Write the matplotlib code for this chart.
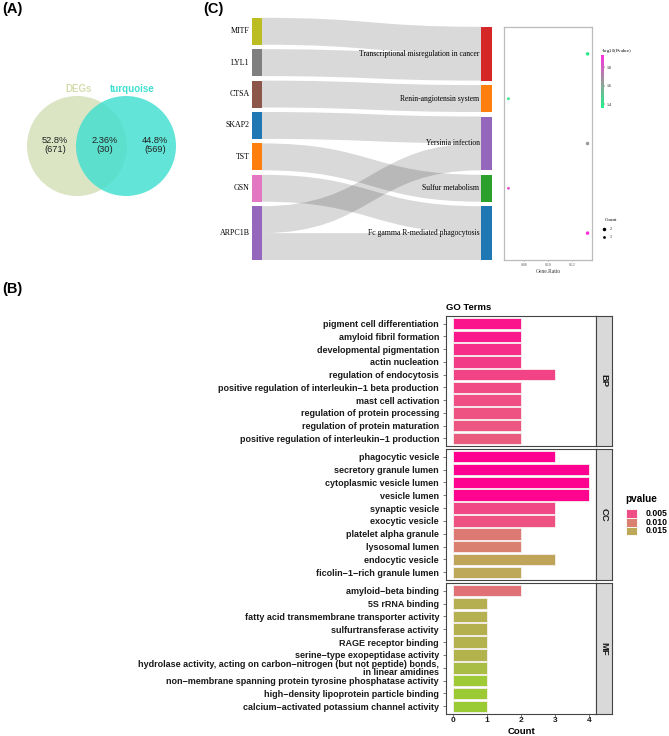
import numpy as np
import matplotlib
matplotlib.use('Agg')
import matplotlib.pyplot as plt
from matplotlib.patches import Circle, Rectangle, PathPatch
from matplotlib.path import Path
from matplotlib.colors import LinearSegmentedColormap, Normalize
from matplotlib.cm import ScalarMappable

# ---------------- data ----------------
venn_names = ['DEGs', 'turquoise']
venn_counts = [671, 30, 569]          # only DEGs, shared, only turquoise

genes = ['MITF', 'LYL1', 'CTSA', 'SKAP2', 'TST', 'GSN', 'ARPC1B']
gene_colors = ['#bcbd22', '#7f7f7f', '#8c564b', '#1f77b4', '#ff7f0e', '#e377c2', '#9467bd']
pathways = ['Transcriptional misregulation in cancer', 'Renin-angiotensin system',
            'Yersinia infection', 'Sulfur metabolism', 'Fc gamma R-mediated phagocytosis']
pathway_colors = ['#d62728', '#ff7f0e', '#9467bd', '#2ca02c', '#1f77b4']
link_source = ['MITF', 'LYL1', 'CTSA', 'SKAP2', 'TST', 'GSN', 'ARPC1B', 'ARPC1B']
link_target = ['Transcriptional misregulation in cancer', 'Transcriptional misregulation in cancer',
               'Renin-angiotensin system', 'Yersinia infection', 'Sulfur metabolism',
               'Fc gamma R-mediated phagocytosis', 'Yersinia infection',
               'Fc gamma R-mediated phagocytosis']

kegg_gene_ratio = [0.133, 0.067, 0.133, 0.067, 0.133]
kegg_count = [2, 1, 2, 1, 2]
kegg_neglog10p = [1.38, 1.40, 1.65, 1.85, 1.93]

bp_terms = ['pigment cell differentiation', 'amyloid fibril formation', 'developmental pigmentation',
            'actin nucleation', 'regulation of endocytosis',
            'positive regulation of interleukin\u22121 beta production', 'mast cell activation',
            'regulation of protein processing', 'regulation of protein maturation',
            'positive regulation of interleukin\u22121 production']
bp_counts = [2, 2, 2, 2, 3, 2, 2, 2, 2, 2]
bp_p = [0.0016, 0.0018, 0.0030, 0.0040, 0.0044, 0.0048, 0.0051, 0.0054, 0.0058, 0.0064]

cc_terms = ['phagocytic vesicle', 'secretory granule lumen', 'cytoplasmic vesicle lumen', 'vesicle lumen',
            'synaptic vesicle', 'exocytic vesicle', 'platelet alpha granule', 'lysosomal lumen',
            'endocytic vesicle', 'ficolin\u22121\u2212rich granule lumen']
cc_counts = [3, 4, 4, 4, 3, 3, 2, 2, 3, 2]
cc_p = [0.0003, 0.0004, 0.0005, 0.0006, 0.0047, 0.0054, 0.0093, 0.0100, 0.0145, 0.0150]

mf_terms = ['amyloid\u2212beta binding', '5S rRNA binding', 'fatty acid transmembrane transporter activity',
            'sulfurtransferase activity', 'RAGE receptor binding', 'serine\u2212type exopeptidase activity',
            'hydrolase activity, acting on carbon\u2212nitrogen (but not peptide) bonds,\nin linear amidines',
            'non\u2212membrane spanning protein tyrosine phosphatase activity',
            'high\u2212density lipoprotein particle binding', 'calcium\u2212activated potassium channel activity']
mf_counts = [2, 1, 1, 1, 1, 1, 1, 1, 1, 1]
mf_p = [0.0085, 0.0160, 0.0161, 0.0162, 0.0164, 0.0166, 0.0180, 0.0200, 0.0201, 0.0202]

ontologies = ['BP', 'CC', 'MF']
pvalue_breaks = [0.005, 0.010, 0.015]
count_x_ticks = [0, 1, 2, 3, 4]

# ---------------- figure ----------------
W, H = 669, 736
fig = plt.figure(figsize=(W / 100, H / 100), dpi=100)
SANS = 'Liberation Sans'
SERIF = 'Liberation Serif'


def px_axes(x0, y0, x1, y1, **kw):
    return fig.add_axes([x0 / W, 1 - y1 / H, (x1 - x0) / W, (y1 - y0) / H], **kw)


ov = px_axes(0, 0, W, H)
ov.set_xlim(0, W)
ov.set_ylim(H, 0)
ov.axis('off')

# panel labels
for lab, x, y in [('(A)', 2, 9), ('(C)', 203, 9), ('(B)', 2, 289)]:
    ov.text(x, y, lab, fontsize=10.5, fontweight='bold', family=SANS, va='center', ha='left')

# ---------------- (A) Venn ----------------
total = sum(venn_counts)
ov.add_patch(Circle((77, 146), 50, facecolor='#dbe5c4', edgecolor='none', zorder=1))
ov.add_patch(Circle((126, 146), 50, facecolor='#40e0d0', edgecolor='none', alpha=0.82, zorder=2))
ov.text(79, 89, venn_names[0], color='#d3ddb0', fontsize=7, fontweight='bold', family=SANS,
        ha='center', va='center')
ov.text(132, 89, venn_names[1], color='#40e0d0', fontsize=7, fontweight='bold', family=SANS,
        ha='center', va='center')
for x, c in zip([55, 105, 155], venn_counts):
    pct = 100 * c / total
    s = f'{pct:.1f}%' if pct >= 10 else f'{pct:.2f}%'
    ov.text(x, 145, f'{s}\n({c})', fontsize=6.7, family=SANS, ha='center', va='center',
            color='#222222', linespacing=1.1, zorder=5)

# ---------------- (C) Sankey ----------------
unit, gap, bottom = 26.9, 4.5, 260.0
xl0, xl1, xr0, xr1 = 252, 262, 481, 492


def node_layout(names, counts):
    tot = sum(counts) * unit + (len(names) - 1) * gap
    y = bottom - tot
    pos = {}
    for n, c in zip(names, counts):
        pos[n] = (y, y + c * unit)
        y += c * unit + gap
    return pos


gcount = [link_source.count(g) for g in genes]
pcount = [link_target.count(p) for p in pathways]
gpos = node_layout(genes, gcount)
ppos = node_layout(pathways, pcount)

gofs = {g: gpos[g][0] for g in genes}
pofs = {p: ppos[p][0] for p in pathways}
order = sorted(range(len(link_source)),
               key=lambda i: (genes.index(link_source[i]), pathways.index(link_target[i])))
src_y = {}
for i in order:
    src_y[i] = gofs[link_source[i]]
    gofs[link_source[i]] += unit
order2 = sorted(range(len(link_source)),
                key=lambda i: (pathways.index(link_target[i]), genes.index(link_source[i])))
tgt_y = {}
for i in order2:
    tgt_y[i] = pofs[link_target[i]]
    pofs[link_target[i]] += unit

xm = (xl1 + xr0) / 2
for i in range(len(link_source)):
    y0, y1 = src_y[i], tgt_y[i]
    verts = [(xl1, y0), (xm, y0), (xm, y1), (xr0, y1), (xr0, y1 + unit),
             (xm, y1 + unit), (xm, y0 + unit), (xl1, y0 + unit), (xl1, y0)]
    codes = [Path.MOVETO, Path.CURVE4, Path.CURVE4, Path.CURVE4, Path.LINETO,
             Path.CURVE4, Path.CURVE4, Path.CURVE4, Path.CLOSEPOLY]
    ov.add_patch(PathPatch(Path(verts, codes), facecolor='black', alpha=0.15,
                           edgecolor='none', zorder=3))

for g, col in zip(genes, gene_colors):
    a, b = gpos[g]
    ov.add_patch(Rectangle((xl0, a), xl1 - xl0, b - a, facecolor=col, edgecolor='none', zorder=4))
    ov.text(xl0 - 2.5, (a + b) / 2, g, fontsize=5.7, family=SERIF, ha='right', va='center', zorder=6)
for p, col in zip(pathways, pathway_colors):
    a, b = ppos[p]
    ov.add_patch(Rectangle((xr0, a), xr1 - xr0, b - a, facecolor=col, edgecolor='none', zorder=4))
    ov.text(xr0 - 1.5, (a + b) / 2, p, fontsize=5.5, family=SERIF, ha='right', va='center', zorder=6)

# KEGG dot plot
dcmap = LinearSegmentedColormap.from_list('gm', ['#22f08a', '#9a9a9a', '#ff2ee0'])
dnorm = Normalize(1.36, 1.93)
dax = px_axes(504, 27, 592, 260)
dax.scatter(kegg_gene_ratio, range(len(pathways)), s=[2.5 * c + 1.5 for c in kegg_count],
            c=kegg_neglog10p, cmap=dcmap, norm=dnorm, linewidths=0, zorder=3)
dax.set_ylim(len(pathways) - 0.4, -0.6)
dax.set_xlim(0.0633, 0.1367)
dax.set_yticks([])
dax.set_xticks([0.08, 0.10, 0.12])
dax.set_xticklabels(['0.08', '0.10', '0.12'], family=SERIF, fontsize=2.8)
dax.tick_params(axis='x', length=1, width=0.4, pad=1, colors='#555555')
for sp in dax.spines.values():
    sp.set_color('#bbbbbb')
    sp.set_linewidth(0.9)
dax.set_xlabel('Gene.Ratio', family=SERIF, fontsize=4, labelpad=1.5, color='#333333')

cax = px_axes(601, 55, 603.5, 108)
cb = fig.colorbar(ScalarMappable(norm=dnorm, cmap=dcmap), cax=cax)
cb.outline.set_visible(False)
cb.set_ticks([1.4, 1.6, 1.8])
cb.ax.tick_params(labelsize=2.8, length=1, width=0.3, pad=1)
for t in cb.ax.get_yticklabels():
    t.set_family(SERIF)
ov.text(601, 51, r'-log$_{10}$(Pvalue)', fontsize=3.5, family=SERIF, ha='left', va='center')
ov.text(605, 220, 'Count', fontsize=3.6, family=SERIF, ha='left', va='center')
for yy, c in zip([229, 237], [2, 1]):
    ov.scatter([604], [yy], s=2.5 * c + 1.5, color='black', linewidths=0)
    ov.text(610, yy, str(c), fontsize=2.8, family=SERIF, ha='left', va='center')

# ---------------- (B) GO bar chart ----------------
pcmap = LinearSegmentedColormap.from_list(
    'pv', [(0.0, '#ff0090'), ((0.005 - 0.0003) / 0.0202, '#ef4e84'),
           ((0.010 - 0.0003) / 0.0202, '#d98070'), ((0.015 - 0.0003) / 0.0202, '#bca858'),
           (1.0, '#9acd32')])
pnorm = Normalize(0.0003, 0.0205)

panels = [(bp_terms, bp_counts, bp_p, 316, 446),
          (cc_terms, cc_counts, cc_p, 449, 580),
          (mf_terms, mf_counts, mf_p, 583, 714)]
for k, (terms, counts, ps, y0, y1) in enumerate(panels):
    ax = px_axes(446, y0, 596, y1)
    yy = np.arange(len(terms))
    ax.barh(yy, counts, height=0.9, color=[pcmap(pnorm(p)) for p in ps],
            edgecolor='#f7f0f0', linewidth=0.6, zorder=3)
    ax.set_ylim(len(terms) - 0.4, -0.6)
    ax.set_xlim(-0.2, 4.2)
    ax.set_yticks(yy)
    ax.set_yticklabels(terms, fontsize=6.5, fontweight='bold', family=SANS, color='#1a1a1a',
                       linespacing=0.82)
    ax.tick_params(axis='y', length=2, width=0.5, color='#444444', pad=3)
    for sp in ax.spines.values():
        sp.set_color('#444444')
        sp.set_linewidth(0.8)
    if k == 2:
        ax.set_xticks(count_x_ticks)
        ax.set_xticklabels([str(v) for v in count_x_ticks], fontsize=6, fontweight='bold',
                           family=SANS, color='#1a1a1a')
        ax.tick_params(axis='x', length=2, width=0.5, color='#444444', pad=0.5)
        ov.text(521, 731, 'Count', fontsize=6.8, fontweight='bold', family=SANS,
                ha='center', va='center')
    else:
        ax.set_xticks([])
    if k == 0:
        ax.set_title('GO Terms', loc='left', fontsize=6.8, fontweight='bold', family=SANS, pad=4)
    sax = px_axes(596, y0, 612, y1)
    sax.set_facecolor('#d9d9d9')
    sax.set_xticks([])
    sax.set_yticks([])
    for sp in sax.spines.values():
        sp.set_color('#444444')
        sp.set_linewidth(0.8)
    sax.text(0.5, 0.5, ontologies[k], rotation=270, fontsize=6.8, fontweight='bold', family=SANS,
             ha='center', va='center', transform=sax.transAxes, color='#1a1a1a')

# pvalue legend
ov.text(625, 499, 'pvalue', fontsize=7.2, fontweight='bold', family=SANS, ha='left', va='center')
for i, v in enumerate(pvalue_breaks):
    yc = 513.5 + 8.7 * i
    ov.add_patch(Rectangle((626, yc - 4.35), 11, 8.7, facecolor=pcmap(pnorm(v)),
                           edgecolor='white', linewidth=0.6))
    ov.text(646, yc, f'{v:.3f}', fontsize=6.2, fontweight='bold', family=SANS, ha='left', va='center')

fig.savefig('out.png', dpi=100)
